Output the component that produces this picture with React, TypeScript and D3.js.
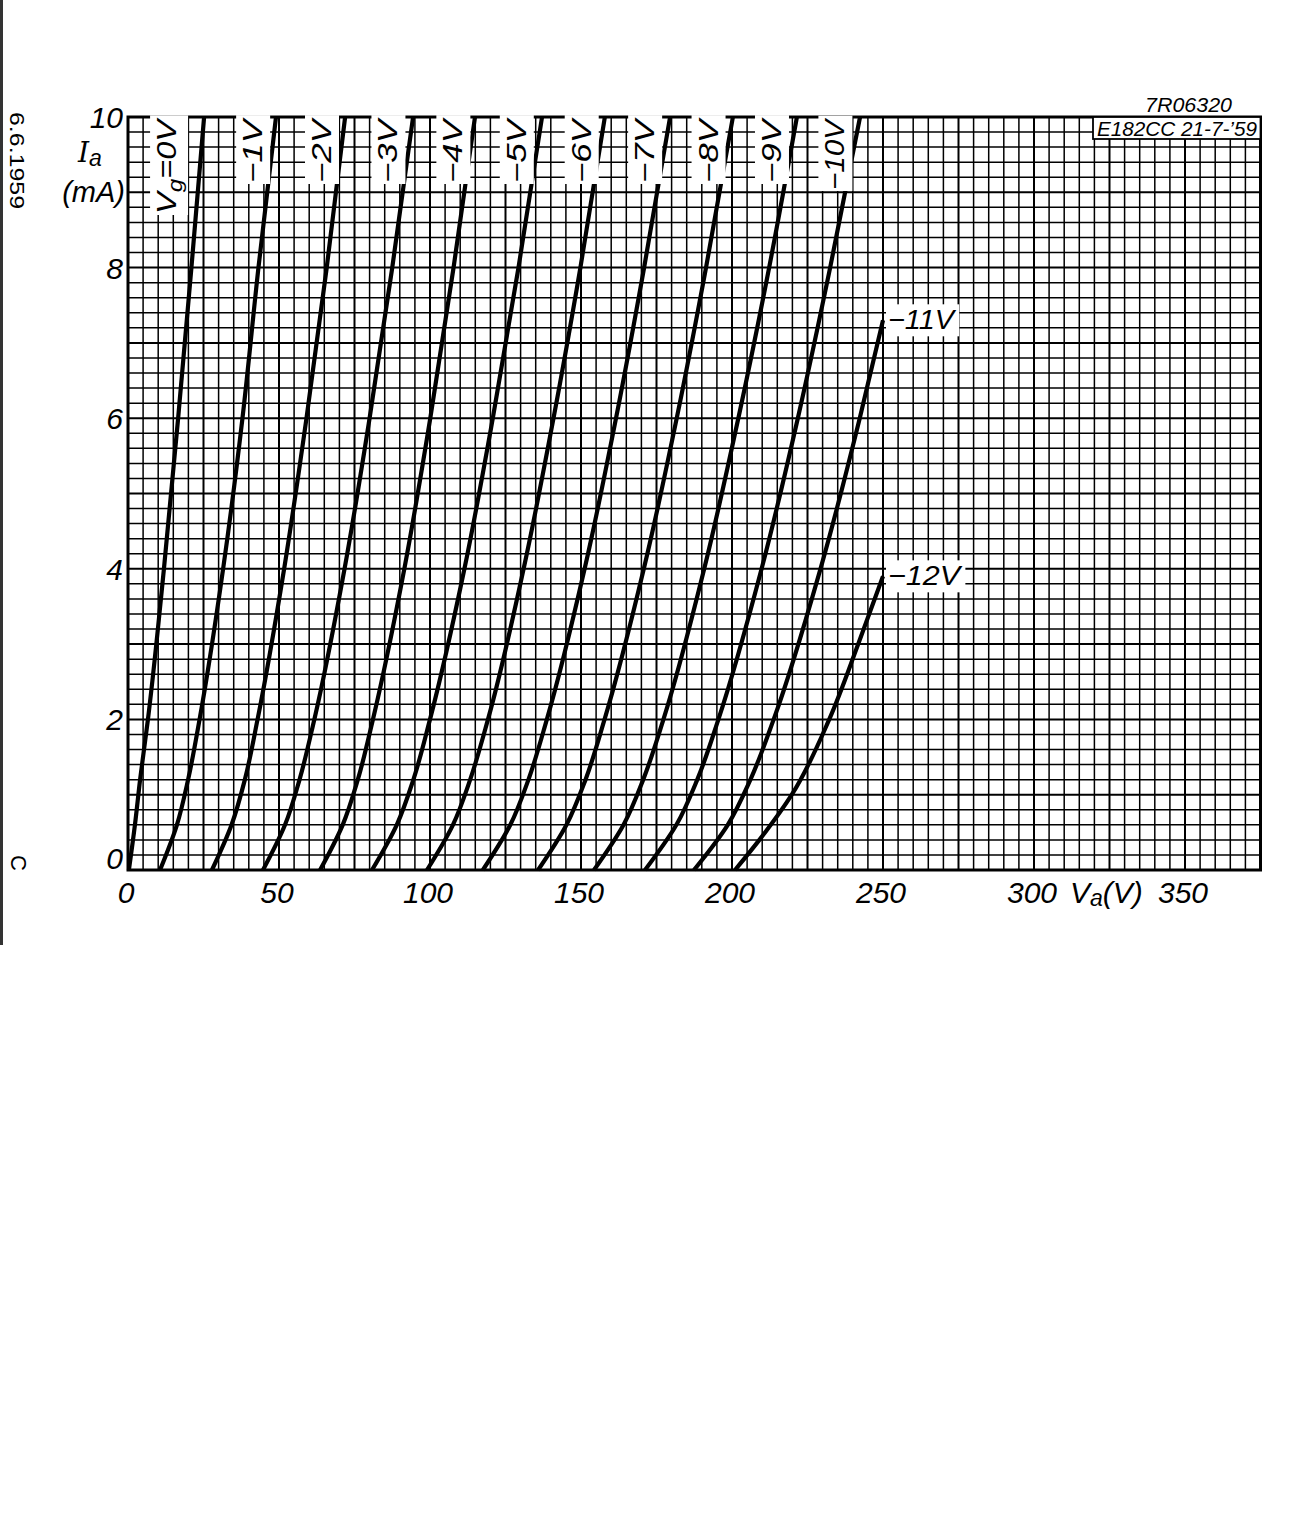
import React, { useEffect, useRef } from "react";
import * as d3 from "d3";

// ---- data ----
const gridVoltages = ["0V", "-1V", "-2V", "-3V", "-4V", "-5V", "-6V", "-7V", "-8V", "-9V", "-10V", "-11V", "-12V"];
const iaStd = [0, 0.6, 1.2, 2, 4, 6, 8, 10];
const va0 = [0.3, 2.3, 4.0, 6.6, 11.9, 16.6, 21.0, 25.2];
const va1 = [10.6, 16.2, 19.9, 23.7, 31.5, 37.9, 43.2, 49.0];
const va2 = [27.8, 34.3, 38.7, 42.9, 51.7, 59.1, 65.8, 71.9];
const va3 = [44.7, 52.0, 56.8, 61.7, 71.7, 80.0, 87.5, 94.4];
const va4 = [63.6, 71.1, 76.1, 81.1, 91.5, 100.1, 107.8, 114.9];
const va5 = [80.8, 89.0, 94.5, 100.0, 111.4, 120.8, 129.3, 137.1];
const va6 = [99.0, 107.6, 113.3, 119.2, 131.0, 140.9, 149.8, 157.9];
const va7 = [117.5, 126.6, 132.6, 138.7, 151.2, 161.6, 170.9, 179.5];
const va8 = [135.8, 145.2, 151.5, 157.8, 170.8, 181.7, 191.4, 200.3];
const va9 = [154.3, 164.1, 170.6, 177.3, 190.8, 202.1, 212.3, 221.5];
const va10 = [171.2, 181.6, 188.5, 195.5, 209.8, 221.8, 232.5, 242.4];
const ia11 = [0, 0.6, 1.2, 2, 4, 6, 7.3];
const va11 = [187.4, 198.6, 206.1, 213.8, 229.3, 242.3, 250];
const ia12 = [0, 0.5, 1, 2, 3, 3.9];
const va12 = [201.0, 211.0, 219.8, 232.2, 241.8, 250];

const xTicks = [0, 50, 100, 150, 200, 250, 300, 350];
const yTicks = [0, 2, 4, 6, 8, 10];
const topLabelV = [12.7, 41.2, 64.0, 86.0, 107.5, 128.5, 150.0, 171.0, 192.0, 213.0, 234.0];

const FONT = "'Liberation Sans', 'DejaVu Sans', sans-serif";

export default function App() {
  const ref = useRef<SVGSVGElement>(null);

  useEffect(() => {
    const svg = d3.select(ref.current);
    svg.selectAll("*").remove();

    const x = d3.scaleLinear().domain([0, 375]).range([128, 1260.5]);
    const y = d3.scaleLinear().domain([0, 10]).range([870, 117]);

    const series = [
      { ia: iaStd, va: va0 }, { ia: iaStd, va: va1 }, { ia: iaStd, va: va2 },
      { ia: iaStd, va: va3 }, { ia: iaStd, va: va4 }, { ia: iaStd, va: va5 },
      { ia: iaStd, va: va6 }, { ia: iaStd, va: va7 }, { ia: iaStd, va: va8 },
      { ia: iaStd, va: va9 }, { ia: iaStd, va: va10 }, { ia: ia11, va: va11 },
      { ia: ia12, va: va12 },
    ];

    // left page edge line
    svg.append("rect").attr("x", 0).attr("y", 0).attr("width", 3).attr("height", 945).attr("fill", "#333");

    // grid
    const g = svg.append("g");
    for (let v = 0; v <= 375; v += 5) {
      const major = v % 25 === 0;
      g.append("line")
        .attr("x1", x(v)).attr("x2", x(v)).attr("y1", y(0)).attr("y2", y(10))
        .attr("stroke", "#000").attr("stroke-width", major ? 2 : 1.5);
    }
    for (let k = 0; k <= 50; k++) {
      const i = k * 0.2;
      const major = k % 5 === 0;
      g.append("line")
        .attr("x1", x(0)).attr("x2", x(375)).attr("y1", y(i)).attr("y2", y(i))
        .attr("stroke", "#000").attr("stroke-width", major ? 2 : 1.5);
    }

    // frame
    svg.append("rect")
      .attr("x", x(0)).attr("y", y(10)).attr("width", x(375) - x(0)).attr("height", y(0) - y(10))
      .attr("fill", "none").attr("stroke", "#000").attr("stroke-width", 3);

    const curveLayer = svg.append("g");
    const textLayer = svg.append("g").attr("font-family", FONT).attr("font-style", "italic");

    const line = d3.line<[number, number]>()
      .x((d) => x(d[0])).y((d) => y(d[1]))
      .curve(d3.curveMonotoneY);

    series.forEach((s) => {
      const pts: [number, number][] = s.va.map((v, i) => [v, s.ia[i]]);
      curveLayer.append("path").attr("d", line(pts))
        .attr("fill", "none").attr("stroke", "#000").attr("stroke-width", 4.2);
    });

    const addBox = (t: any, padX: number, padY: number) => {
      const node = t.node() as SVGTextElement;
      const bb = node.getBBox();
      const parent = d3.select(node.parentNode as any);
      parent.insert("rect", "text")
        .attr("x", bb.x - padX).attr("y", bb.y - padY)
        .attr("width", bb.width + 2 * padX).attr("height", bb.height + 2 * padY)
        .attr("fill", "#fff");
    };

    // rotated top labels
    const fs = 27;
    topLabelV.forEach((v, i) => {
      const cx = x(v);
      const grp = textLayer.append("g").attr("transform", `translate(${cx + fs * 0.36},${y(10) + 3}) rotate(-90)`);
      const t = grp.append("text").attr("font-size", fs).attr("text-anchor", "end").attr("fill", "#000")
        .attr("lengthAdjust", "spacingAndGlyphs");
      if (i === 0) {
        t.append("tspan").text("V");
        t.append("tspan").attr("font-size", fs * 0.75).attr("dy", 6).text("g");
        t.append("tspan").attr("dy", -6).text("=0V");
        t.attr("textLength", 94);
      } else {
        const s = gridVoltages[i].replace("-", "\u2212");
        t.text(s).attr("textLength", s.length > 3 ? 70 : 63);
      }
      addBox(t, 1, 2);
    });

    // -11V and -12V labels
    [[11, 7.3], [12, 3.9]].forEach(([idx, ia]) => {
      const grp = textLayer.append("g").attr("transform", `translate(${x(250) + 5},${y(ia) + 9})`);
      const s = gridVoltages[idx].replace("-", "\u2212");
      const t = grp.append("text").attr("font-size", 27).attr("fill", "#000")
        .attr("textLength", idx === 11 ? 66 : 72).attr("lengthAdjust", "spacingAndGlyphs")
        .text(s);
      addBox(t, 2, 1);
    });

    // axis tick labels
    xTicks.forEach((v) => {
      textLayer.append("text").attr("x", x(v) - 2).attr("y", 903)
        .attr("font-size", 30).attr("text-anchor", "middle").text(String(v));
    });
    yTicks.forEach((v) => {
      textLayer.append("text").attr("x", 123).attr("y", v === 0 ? y(0) - 1 : y(v) + 11)
        .attr("font-size", 30).attr("text-anchor", "end").text(String(v));
    });

    // axis titles
    const va = textLayer.append("text").attr("x", 1070).attr("y", 903).attr("font-size", 30);
    va.append("tspan").text("V");
    va.append("tspan").attr("font-size", 23).attr("dy", 3).text("a");
    va.append("tspan").attr("dy", -3).text("(V)");

    const iaT = textLayer.append("text").attr("x", 78).attr("y", 162).attr("font-size", 28)
      .attr("font-family", "'DejaVu Serif', serif");
    iaT.append("tspan").text("I");
    iaT.append("tspan").attr("font-size", 23).attr("dy", 4).attr("font-family", FONT).text("a");
    textLayer.append("text").attr("x", 125).attr("y", 202).attr("font-size", 29)
      .attr("text-anchor", "end").text("(mA)");

    // top right stamps
    textLayer.append("text").attr("x", 1232).attr("y", 112).attr("font-size", 20)
      .attr("text-anchor", "end").attr("textLength", 87).attr("lengthAdjust", "spacingAndGlyphs").text("7R06320");
    const stamp = textLayer.append("g");
    stamp.append("rect").attr("x", 1093).attr("y", 117).attr("width", 167.5).attr("height", 22)
      .attr("fill", "#fff").attr("stroke", "#000").attr("stroke-width", 1.8);
    stamp.append("text").attr("x", 1097).attr("y", 136).attr("font-size", 21)
      .attr("textLength", 160).attr("lengthAdjust", "spacingAndGlyphs")
      .text("E182CC  21-7-\u201959");

    // left margin rotated texts
    svg.append("text").attr("font-family", FONT).attr("font-size", 21)
      .attr("textLength", 97).attr("lengthAdjust", "spacingAndGlyphs")
      .attr("transform", "translate(10,112) rotate(90)").text("6.6.1959");
    svg.append("text").attr("font-family", FONT).attr("font-size", 22)
      .attr("transform", "translate(11,855) rotate(90)").text("C");
  }, []);

  return (
    <svg ref={ref} width={1293} height={1536}
      style={{ position: "absolute", left: 0, top: 0, background: "#fff" }} />
  );
}
